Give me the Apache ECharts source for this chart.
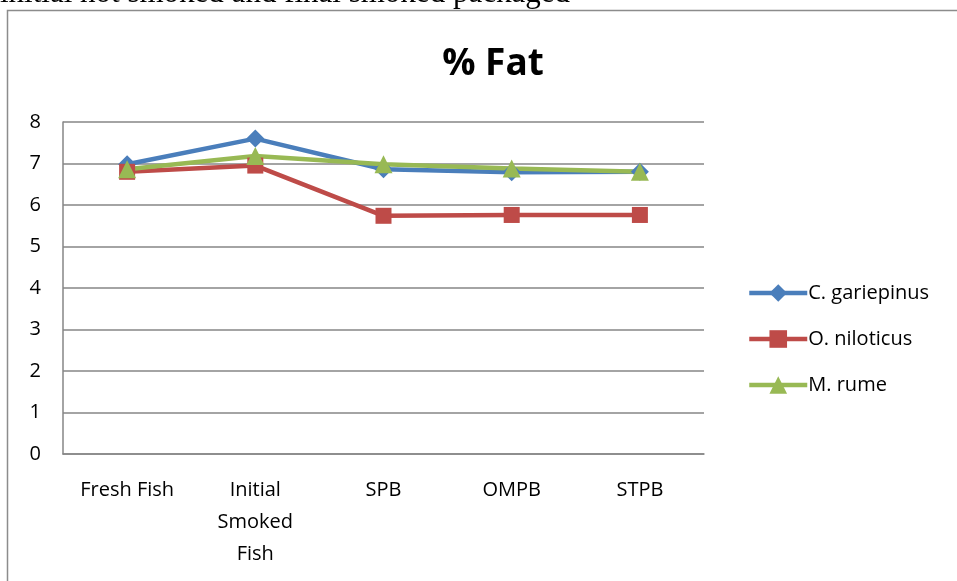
<!DOCTYPE html>
<html><head><meta charset="utf-8">
<script src="https://cdn.jsdelivr.net/npm/echarts@6/dist/echarts.min.js"></script>
<style>html,body{margin:0;padding:0;background:#fff}#c{width:957px;height:581px}</style>
</head><body><div id="c"></div>
<script>
const categories = ['Fresh Fish', 'Initial\nSmoked\nFish', 'SPB', 'OMPB', 'STPB'];
const cGariepinus = [6.98, 7.6, 6.86, 6.79, 6.8];
const oNiloticus = [6.8, 6.95, 5.74, 5.76, 5.76];
const mRume = [6.86, 7.18, 6.98, 6.88, 6.8];
const yTicks = [0, 1, 2, 3, 4, 5, 6, 7, 8];

const font = '"Open Sans", sans-serif';
const chart = echarts.init(document.getElementById('c'), null, {renderer: 'canvas'});
function s(name, data, color, symbol, size) {
  return {name, type: 'line', data, symbol, symbolSize: size,
    lineStyle: {color, width: 4.5}, itemStyle: {color}, color};
}
chart.setOption({
  animation: false,
  title: {text: '% Fat', left: 488, top: 41, textAlign: 'center',
    textStyle: {fontFamily: font, fontWeight: 'bold', fontSize: 37, color: '#000'}},
  graphic: [
    {type: 'rect', shape: {x: 7.5, y: 10.5, width: 1000, height: 700},
      style: {fill: 'none', stroke: '#8c8c8c', lineWidth: 1.5}},
    {type: 'text', x: 0, y: 9.5,
      style: {text: 'initial hot smoked and final smoked packaged', font: '31px "Liberation Serif", serif', fill: '#000', verticalAlign: 'bottom'}}
  ],
  legend: {orient: 'vertical', left: 742, top: 278, itemGap: 26, itemWidth: 58, itemHeight: 22,
    textStyle: {fontFamily: font, fontSize: 20, color: '#000', padding: [0, 0, 0, -4]},
    lineStyle: {width: 4.5},
    data: ['C. gariepinus', 'O. niloticus', 'M. rume']},
  grid: {left: 63, top: 122, width: 641, height: 332},
  xAxis: {type: 'category', data: categories, boundaryGap: true,
    axisLine: {lineStyle: {color: '#868686', width: 1.5}}, axisTick: {show: false},
    axisLabel: {fontFamily: font, fontSize: 20, color: '#000', margin: 20, lineHeight: 32, interval: 0}},
  yAxis: {type: 'value', min: 0, max: 8, interval: 1,
    axisLine: {show: true, lineStyle: {color: '#868686', width: 1.5}}, axisTick: {show: false},
    splitLine: {lineStyle: {color: '#868686', width: 1.5}},
    axisLabel: {fontFamily: font, fontSize: 20, color: '#000', margin: 22,
      formatter: v => yTicks.includes(v) ? String(v) : ''}},
  series: [
    s('C. gariepinus', cGariepinus, '#4A7EBB', 'diamond', 18),
    s('O. niloticus', oNiloticus, '#BE4B48', 'rect', 16),
    s('M. rume', mRume, '#98B954', 'triangle', 18)
  ]
});
</script></body></html>
